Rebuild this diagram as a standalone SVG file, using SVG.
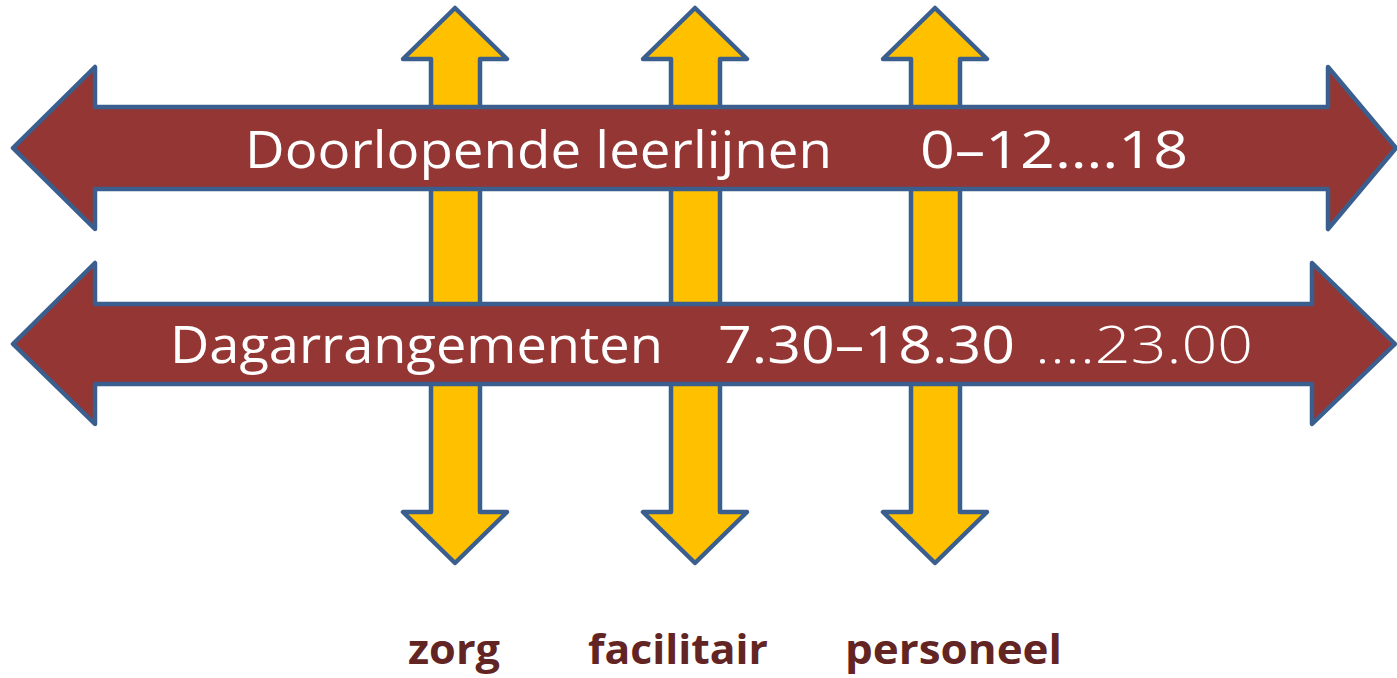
<svg xmlns="http://www.w3.org/2000/svg" width="1397" height="678" viewBox="0 0 1397 678">
<style>
.y{fill:#FFC000;stroke:#3A5F8E;stroke-width:4.5;stroke-linejoin:round}
.r{fill:#943634;stroke:#3A5F8E;stroke-width:4.5;stroke-linejoin:round}
.t{fill:#FFFFFF;font-family:"Open Sans","Noto Sans",sans-serif;font-size:52px}
.l{fill:#632523;font-family:"Open Sans","Noto Sans",sans-serif;font-size:42px;font-weight:bold}
</style>
<rect width="1397" height="678" fill="#FFFFFF"/>
<g id="connectors">
<g id="v-zorg"><path class="y" d="M455,8 L507,59 L480,59 L480,512 L507,512 L455,563 L403,512 L431,512 L431,59 L403,59 Z"/></g>
<g id="v-facilitair"><path class="y" d="M695,8 L747,59 L720,59 L720,512 L747,512 L695,563 L643,512 L671,512 L671,59 L643,59 Z"/></g>
<g id="v-personeel"><path class="y" d="M935,8 L987,59 L960,59 L960,512 L987,512 L935,563 L883,512 L911,512 L911,59 L883,59 Z"/></g>
</g>
<g id="leerlijnen">
<path class="r" d="M13,148 L95,67 L95,107 L1328,107 L1328,67 L1396,148 L1328,229 L1328,189 L95,189 L95,229 Z"/>
<text class="t" x="245" y="168" textLength="587" lengthAdjust="spacingAndGlyphs">Doorlopende leerlijnen</text>
<text class="t" x="920" y="168" textLength="268" lengthAdjust="spacingAndGlyphs">0–12….18</text>
</g>
<g id="dagarrangementen">
<path class="r" d="M13,344 L95,263 L95,304 L1312,304 L1312,263 L1395,344 L1312,424 L1312,384 L95,384 L95,424 Z"/>
<text class="t" x="170" y="363" textLength="493" lengthAdjust="spacingAndGlyphs">Dagarrangementen</text>
<text class="t" x="718" y="363" textLength="297" lengthAdjust="spacingAndGlyphs">7.30–18.30</text>
<text class="t" x="1035" y="363" textLength="218" lengthAdjust="spacingAndGlyphs" font-weight="300">….23.00</text>
</g>
<g id="label-zorg"><text class="l" x="408" y="664" textLength="92" lengthAdjust="spacingAndGlyphs">zorg</text></g>
<g id="label-facilitair"><text class="l" x="588" y="664" textLength="180" lengthAdjust="spacingAndGlyphs">facilitair</text></g>
<g id="label-personeel"><text class="l" x="845" y="664" textLength="217" lengthAdjust="spacingAndGlyphs">personeel</text></g>
</svg>
